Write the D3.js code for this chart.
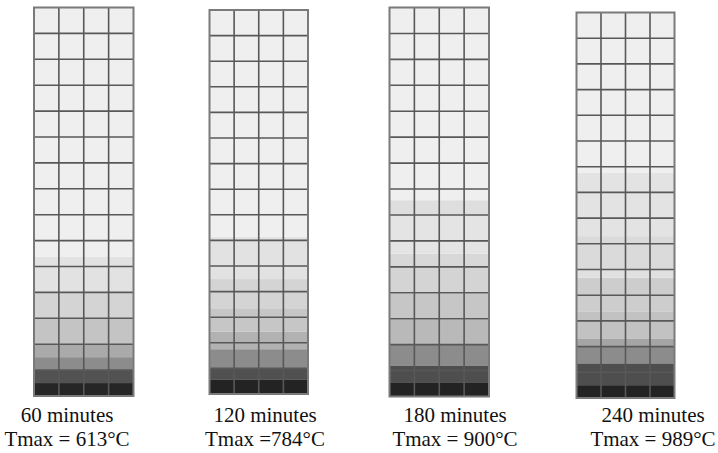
<!DOCTYPE html>
<html>
<head>
<meta charset="utf-8">
<script src="https://cdn.jsdelivr.net/npm/d3@7"></script>
<style>
  body { margin: 0; background: #fff; }
  svg { display: block; }
</style>
</head>
<body>
<svg id="chart"></svg>
<script>
// element rows (bottom = 0) and columns of each section
const rowCount = 15;
const colCount = 4;

const timeLabels = ['60 minutes', '120 minutes', '180 minutes', '240 minutes'];
const tmaxLabels = ['Tmax = 613°C', 'Tmax =784°C', 'Tmax = 900°C', 'Tmax = 989°C'];

// upper edge of each shading band, in element rows from the bottom, and its grey level
const bandTops60 = [0.5, 1.0, 1.5, 2.0, 3.0, 4.0, 5.37, 15];
const bandGrays60 = [38, 82, 140, 170, 196, 212, 226, 239];

const bandTops120 = [0.55, 1.0, 1.75, 2.43, 3.35, 4.49, 6.14, 15];
const bandGrays120 = [35, 80, 140, 178, 198, 212, 226, 239];

const bandTops180 = [0.55, 1.2, 2.0, 2.96, 3.97, 5.0, 5.51, 7.0, 7.57, 15];
const bandGrays180 = [35, 78, 140, 185, 198, 212, 216, 228, 222, 239];

const bandTops240 = [0.5, 1.35, 2.0, 2.32, 3.35, 4.68, 5.0, 6.3, 8.76, 15];
const bandGrays240 = [35, 78, 140, 165, 194, 205, 224, 218, 227, 239];

const bandTops = [bandTops60, bandTops120, bandTops180, bandTops240];
const bandGrays = [bandGrays60, bandGrays120, bandGrays180, bandGrays240];

// layout of the four sections on the page
const width = 718;
const height = 453;
const boxes = [
    { left: 34, right: 133.5, top: 7.5, bottom: 396 },
    { left: 209.5, right: 308, top: 10, bottom: 394 },
    { left: 389.5, right: 489, top: 7.5, bottom: 396.5 },
    { left: 576.5, right: 674.5, top: 12.5, bottom: 398 }
];
const labelCenters = [67, 265, 455, 653];

const svg = d3.select('#chart')
    .attr('width', width)
    .attr('height', height);

boxes.forEach((box, i) => {
    const xScale = d3.scaleLinear().domain([0, colCount]).range([box.left, box.right]);
    const yScale = d3.scaleLinear().domain([0, rowCount]).range([box.bottom, box.top]);

    const bands = bandTops[i].map((top, j) => ({
        from: j === 0 ? 0 : bandTops[i][j - 1],
        to: top,
        grey: bandGrays[i][j]
    }));

    const g = svg.append('g').attr('class', 'section');

    g.append('g')
        .attr('class', 'bands')
        .selectAll('rect')
        .data(bands)
        .enter()
        .append('rect')
        .attr('x', xScale(0))
        .attr('width', xScale(colCount) - xScale(0))
        .attr('y', (d) => yScale(d.to))
        .attr('height', (d) => yScale(d.from) - yScale(d.to))
        .attr('fill', (d) => d3.rgb(d.grey, d.grey, d.grey));

    const grid = g.append('g').attr('class', 'grid')
        .attr('stroke', '#585858')
        .attr('stroke-width', 1.6);

    grid.selectAll('.row-line')
        .data(d3.range(1, rowCount))
        .enter()
        .append('line')
        .attr('class', 'row-line')
        .attr('x1', xScale(0))
        .attr('x2', xScale(colCount))
        .attr('y1', (d) => yScale(d))
        .attr('y2', (d) => yScale(d));

    grid.selectAll('.col-line')
        .data(d3.range(1, colCount))
        .enter()
        .append('line')
        .attr('class', 'col-line')
        .attr('x1', (d) => xScale(d))
        .attr('x2', (d) => xScale(d))
        .attr('y1', yScale(0))
        .attr('y2', yScale(rowCount));

    g.append('rect')
        .attr('class', 'frame')
        .attr('x', xScale(0))
        .attr('y', yScale(rowCount))
        .attr('width', xScale(colCount) - xScale(0))
        .attr('height', yScale(0) - yScale(rowCount))
        .attr('fill', 'none')
        .attr('stroke', '#7a7a7a')
        .attr('stroke-width', 2);

    const label = g.append('text')
        .attr('class', 'label')
        .attr('text-anchor', 'middle')
        .style('font-family', '"Liberation Serif", "Times New Roman", serif')
        .style('font-size', '21px')
        .attr('fill', '#111');

    label.append('tspan')
        .attr('x', labelCenters[i])
        .attr('y', 422)
        .text(timeLabels[i]);

    label.append('tspan')
        .attr('x', labelCenters[i])
        .attr('y', 446)
        .text(tmaxLabels[i]);
});
</script>
</body>
</html>
